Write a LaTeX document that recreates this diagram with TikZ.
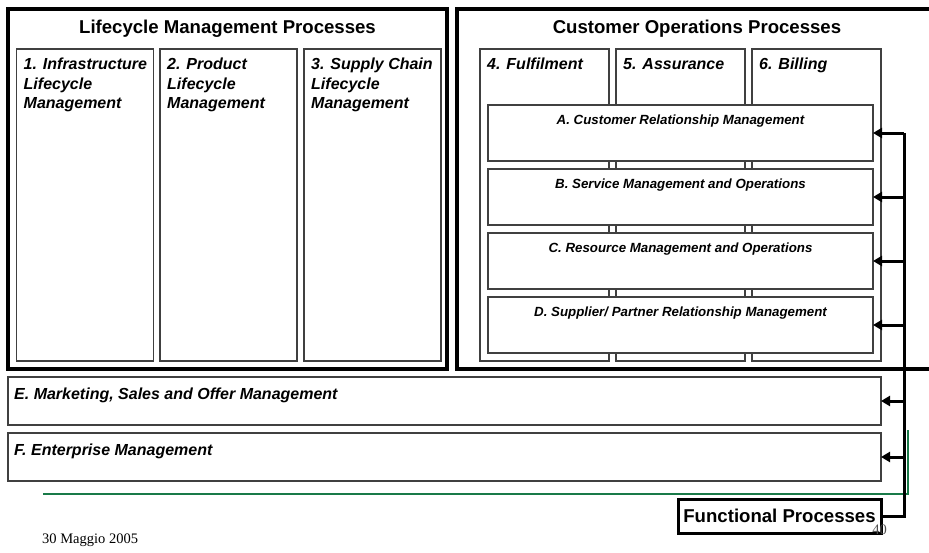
\documentclass[tikz,border=0pt]{standalone}
\usepackage{fontspec}
\setmainfont{Liberation Sans}
\newfontfamily\datefont{Liberation Serif}
\usepackage{tikz}
\usetikzlibrary{positioning,arrows.meta,calc}
\definecolor{rulegreen}{RGB}{25,122,72}

\begin{document}
\begin{tikzpicture}[
  x=1pt, y=-1pt,
  font=\bfseries\itshape\fontsize{16}{19.5}\selectfont,
  outerblk/.style={draw=black, line width=3.2pt, inner sep=0pt, outer sep=0pt},
  colblk/.style={draw=black!75, line width=1.3pt, inner sep=0pt, outer sep=0pt,
                minimum height=312pt},
  rowblk/.style={draw=black!75, line width=1.3pt, fill=white, inner sep=0pt,
                outer sep=0pt, minimum width=385pt, minimum height=56pt},
  wideblk/.style={draw=black!75, line width=1.3pt, fill=white, inner sep=0pt,
                outer sep=0pt, minimum width=873pt, minimum height=48pt},
  funcblk/.style={draw=black, line width=3pt, fill=white, inner sep=0pt,
                minimum width=203pt, minimum height=34pt,
                font=\bfseries\fontsize{18.6}{22}\selectfont},
  title/.style={font=\bfseries\fontsize{18.6}{22}\selectfont, anchor=base, inner sep=0pt},
  collbl/.style={anchor=north west, align=left, inner sep=0pt},
  rowlbl/.style={font=\bfseries\itshape\fontsize{13.3}{16}\selectfont, anchor=base, inner sep=0pt},
  widelbl/.style={anchor=base west, inner sep=0pt},
  arr/.style={-{Triangle[length=9pt 0,width=10pt 0]}, line width=3pt},
  bus/.style={line width=3pt},
  rule/.style={draw=rulegreen, line width=1.5pt},
  foot/.style={font=\datefont\fontsize{14.5}{17}\selectfont, inner sep=0pt}
]
\useasboundingbox (0,0) rectangle (929,552);

% ---- the two process groups ----
\node[outerblk, minimum width=439pt, minimum height=360pt] (lcm) at (227.5,189) {};
\node[outerblk, minimum width=480pt, minimum height=360pt] (cop) at (697,189) {};
\node[title] (lcmt) at ($(lcm.north)+(0,24)$) {Lifecycle Management Processes};
\node[title] (copt) at ($(cop.north)+(0,24)$) {Customer Operations Processes};

% ---- lifecycle columns ----
\node[colblk, minimum width=137pt] (c1) at (85,205) {};
\node[colblk, minimum width=137pt] (c2) at (228.5,205) {};
\node[colblk, minimum width=137pt] (c3) at (372.5,205) {};
\node[collbl] at ($(c1.north west)+(7,9)$) (l1) {1. Infrastructure\\Lifecycle\\Management};
\node[collbl] at ($(c2.north west)+(7,9)$) (l2) {2. Product\\Lifecycle\\Management};
\node[collbl] at ($(c3.north west)+(7,9)$) (l3) {3. Supply Chain\\Lifecycle\\Management};

% ---- operations columns ----
\node[colblk, minimum width=129pt] (c4) at (544.5,205) {};
\node[colblk, minimum width=129pt] (c5) at (680.5,205) {};
\node[colblk, minimum width=129pt] (c6) at (816.5,205) {};
\node[collbl] at ($(c4.north west)+(7,9)$) (l4) {4. Fulfilment};
\node[collbl] at ($(c5.north west)+(7,9)$) (l5) {5. Assurance};
\node[collbl] at ($(c6.north west)+(7,9)$) (l6) {6. Billing};

% ---- horizontal layers across the columns ----
\node[rowblk] (rA) at (680.5,133) {};
\node[rowblk] (rB) at (680.5,197) {};
\node[rowblk] (rC) at (680.5,261) {};
\node[rowblk] (rD) at (680.5,325) {};
\node[rowlbl] (tA) at ($(rA.north)+(0,19)$) {A. Customer Relationship Management};
\node[rowlbl] (tB) at ($(rB.north)+(0,19)$) {B. Service Management and Operations};
\node[rowlbl] (tC) at ($(rC.north)+(0,19)$) {C. Resource Management and Operations};
\node[rowlbl] (tD) at ($(rD.north)+(0,19)$) {D. Supplier/ Partner Relationship Management};

% ---- enterprise-wide layers ----
\node[wideblk] (rE) at (444.5,401) {};
\node[wideblk] (rF) at (444.5,457) {};
\node[widelbl] (tE) at ($(rE.north west)+(6,22)$) {E. Marketing, Sales and Offer Management};
\node[widelbl] (tF) at ($(rF.north west)+(6,22)$) {F. Enterprise Management};

% ---- footer rule ----
\coordinate (gl) at (43,494);
\coordinate (gr) at (908,494);
\coordinate (gt) at (908,430);
\draw[rule] (gl) -- (gr) -- (gt);

% ---- functional processes feed ----
\node[funcblk] (func) at (779.5,516) {Functional Processes};
\coordinate (bustop) at (904,133);
\draw[bus] (func.east) -| (bustop);
\foreach \r in {rA,rB,rC,rD,rE,rF}
  \draw[arr] (\r.east -| bustop) -- (\r.east);

% ---- footer text ----
\node[foot, anchor=base west] (date) at (42,543) {30 Maggio 2005};
\node[foot, anchor=base, text=black!70] (pgno) at (879.5,534) {40};
\end{tikzpicture}
\end{document}
